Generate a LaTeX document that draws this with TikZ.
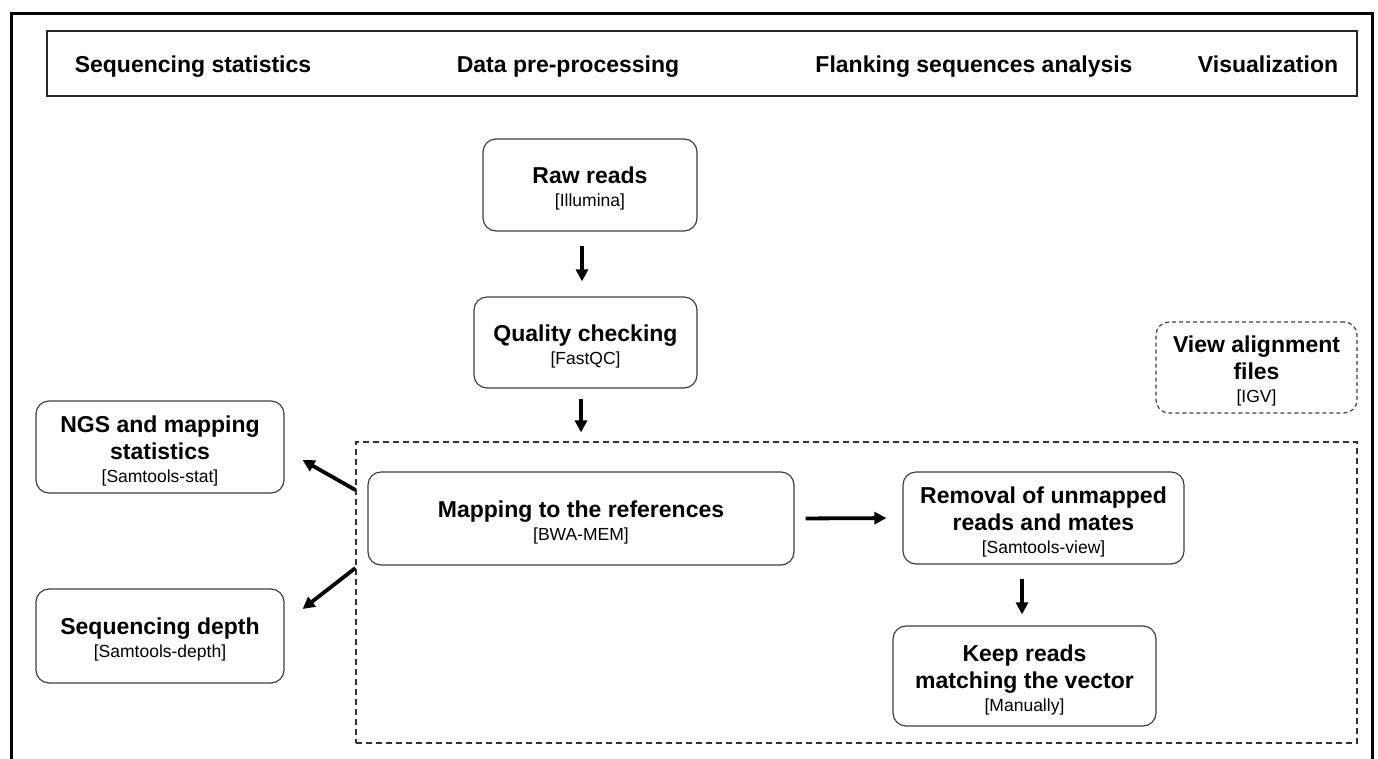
\documentclass[tikz,border=0pt]{standalone}
\usepackage{fontspec}
\setmainfont{Liberation Sans}
\usetikzlibrary{arrows.meta}
\newcommand{\boxtitle}{\bfseries\fontsize{23}{27}\selectfont}
\newcommand{\boxsub}{\mdseries\fontsize{17.5}{23}\selectfont}
\newcommand{\toppad}{\rule{0pt}{24.5pt}}
\begin{document}
\begin{tikzpicture}[x=1pt,y=-1pt,
  box/.style={draw=black!75, line width=1.2pt, rounded corners=13pt, inner sep=0pt, align=center, font=\boxsub},
  dbox/.style={box, dash pattern=on 4pt off 3pt},
  group/.style={draw=black!80, line width=1.1pt, dash pattern=on 6pt off 4pt, inner sep=0pt},
  hdr/.style={font=\boxtitle, inner sep=0pt, anchor=base},
  arr/.style={line width=3.8pt, -{Triangle[length=12pt,width=12pt]}},
]
\useasboundingbox (0,0) rectangle (1378,758);
\fill[white] (0,0) rectangle (1378,758);
% outer frame
\draw[line width=3pt] (11,762) -- (11,13.5) -- (1372,13.5) -- (1372,762);
% header
\node[draw=black!85, line width=1.2pt, minimum width=1310pt, minimum height=65pt, inner sep=0pt] (header) at (702,63.5) {};
\node[hdr] (h1) at (193,72) {Sequencing statistics};
\node[hdr] (h2) at (568,72) {Data pre-processing};
\node[hdr] (h3) at (974,72) {Flanking sequences analysis};
\node[hdr] (h4) at (1268,72) {Visualization};
% group
\node[group, minimum width=1001pt, minimum height=301pt] (dash) at (856.5,592.5) {};
% boxes
\node[box, minimum width=214pt, minimum height=92pt] (raw) at (590,185)
  {{\boxtitle\toppad Raw reads}\\{\boxsub [Illumina]}};
\node[box, minimum width=223pt, minimum height=91pt] (qc) at (585.5,342.5)
  {{\boxtitle\toppad Quality checking}\\{\boxsub [FastQC]}};
\node[box, minimum width=248pt, minimum height=92pt] (ngs) at (160,447)
  {{\boxtitle\toppad NGS and mapping}\\[4pt]{\boxtitle statistics}\\{\boxsub [Samtools-stat]}};
\node[box, minimum width=248pt, minimum height=94pt] (depth) at (160,636)
  {{\boxtitle\toppad Sequencing depth}\\{\boxsub [Samtools-depth]}};
\node[box, minimum width=426pt, minimum height=93pt] (map) at (581,518.5)
  {{\boxtitle\toppad Mapping to the references}\\{\boxsub [BWA-MEM]}};
\node[box, minimum width=281pt, minimum height=92pt] (rem) at (1043.5,518)
  {{\boxtitle\toppad Removal of unmapped}\\[4pt]{\boxtitle reads and mates}\\{\boxsub [Samtools-view]}};
\node[box, minimum width=263pt, minimum height=100pt] (keep) at (1024.5,676)
  {{\boxtitle\toppad Keep reads}\\[4pt]{\boxtitle matching the vector}\\{\boxsub [Manually]}};
\node[dbox, minimum width=201pt, minimum height=91pt] (view) at (1256.5,367.5)
  {{\boxtitle\toppad View alignment}\\[4pt]{\boxtitle files}\\{\boxsub [IGV]}};
% arrows
\coordinate (qcdash) at (qc.south |- dash.north);
\draw[arr] ([xshift=-8pt,yshift=-14pt]raw.south) -- ([xshift=-3.5pt,yshift=15pt]qc.north);
\draw[arr] ([xshift=-4.5pt,yshift=-10pt]qc.south) -- ([xshift=-4.5pt,yshift=9pt]qcdash);
\draw[arr, shorten <=11pt, shorten >=16pt] (map.east) -- (rem.west);
\draw[arr] ([xshift=-21.5pt,yshift=-14pt]rem.south) -- ([xshift=-2.5pt,yshift=11pt]keep.north);
\draw[arr] ([yshift=102.5pt]dash.west) -- ([xshift=18pt,yshift=-13pt]ngs.east);
\draw[arr] ([yshift=24.5pt]dash.west) -- ([xshift=18pt,yshift=27pt]depth.east);
\end{tikzpicture}
\end{document}
